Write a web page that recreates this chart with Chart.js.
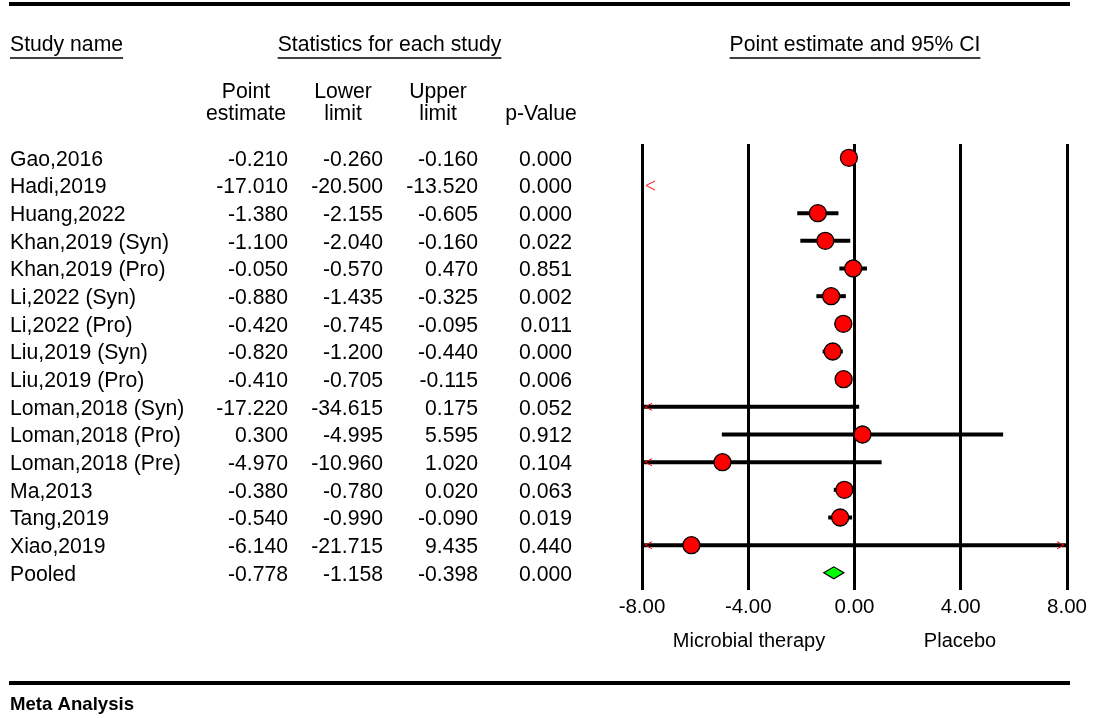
<!DOCTYPE html>
<html>
<head>
<meta charset="utf-8">
<title>Forest plot</title>
<script src="https://cdn.jsdelivr.net/npm/chart.js@4.4.1/dist/chart.umd.min.js"></script>
<style>
  html, body { margin: 0; padding: 0; background: #ffffff; }
  canvas { display: block; }
</style>
</head>
<body>
<canvas id="forest" width="1094" height="718"></canvas>
<script>
// Study rows (last row is the pooled estimate)
const studies = [
  'Gao,2016', 'Hadi,2019', 'Huang,2022', 'Khan,2019 (Syn)', 'Khan,2019 (Pro)',
  'Li,2022 (Syn)', 'Li,2022 (Pro)', 'Liu,2019 (Syn)', 'Liu,2019 (Pro)',
  'Loman,2018 (Syn)', 'Loman,2018 (Pro)', 'Loman,2018 (Pre)', 'Ma,2013',
  'Tang,2019', 'Xiao,2019', 'Pooled'
];
const pointEstimate = [-0.210, -17.010, -1.380, -1.100, -0.050, -0.880, -0.420, -0.820, -0.410,
  -17.220, 0.300, -4.970, -0.380, -0.540, -6.140, -0.778];
const lowerLimit = [-0.260, -20.500, -2.155, -2.040, -0.570, -1.435, -0.745, -1.200, -0.705,
  -34.615, -4.995, -10.960, -0.780, -0.990, -21.715, -1.158];
const upperLimit = [-0.160, -13.520, -0.605, -0.160, 0.470, -0.325, -0.095, -0.440, -0.115,
  0.175, 5.595, 1.020, 0.020, -0.090, 9.435, -0.398];
const pValue = [0.000, 0.000, 0.000, 0.022, 0.851, 0.002, 0.011, 0.000, 0.006,
  0.052, 0.912, 0.104, 0.063, 0.019, 0.440, 0.000];
const xTicks = [-8, -4, 0, 4, 8];
const favoursLeft = 'Microbial therapy';
const favoursRight = 'Placebo';

const FONT = '"Liberation Sans", Arial, Helvetica, sans-serif';
const pooledIndex = studies.length - 1;

// Header, table columns and rules around the plot
const tablePlugin = {
  id: 'tablePlugin',
  afterDraw(chart) {
    const ctx = chart.ctx;
    const y = chart.scales.y;
    ctx.save();
    ctx.fillStyle = '#000';
    ctx.strokeStyle = '#000';

    // heavy rules
    ctx.lineWidth = 4;
    ctx.beginPath();
    ctx.moveTo(9, 4); ctx.lineTo(1070, 4);
    ctx.moveTo(9, 683); ctx.lineTo(1070, 683);
    ctx.stroke();

    ctx.font = '21.2px ' + FONT;
    ctx.textBaseline = 'middle';

    const underlined = (text, x, yy, align) => {
      ctx.textAlign = align;
      ctx.fillText(text, x, yy);
      const w = ctx.measureText(text).width;
      const x0 = align === 'center' ? x - w / 2 : x;
      ctx.lineWidth = 1.3;
      ctx.beginPath();
      ctx.moveTo(x0, yy + 13); ctx.lineTo(x0 + w, yy + 13);
      ctx.stroke();
    };
    underlined('Study name', 10, 45, 'left');
    underlined('Statistics for each study', 389.5, 45, 'center');
    underlined('Point estimate and 95% CI', 855, 45, 'center');

    ctx.textAlign = 'center';
    ctx.fillText('Point', 246, 92);
    ctx.fillText('estimate', 246, 114);
    ctx.fillText('Lower', 343, 92);
    ctx.fillText('limit', 343, 114);
    ctx.fillText('Upper', 438, 92);
    ctx.fillText('limit', 438, 114);
    ctx.fillText('p-Value', 541, 114);

    studies.forEach((name, i) => {
      const py = y.getPixelForValue(i) + 2;
      ctx.textAlign = 'left';
      ctx.fillText(name, 10, py);
      ctx.textAlign = 'right';
      ctx.fillText(pointEstimate[i].toFixed(3), 288, py);
      ctx.fillText(lowerLimit[i].toFixed(3), 383, py);
      ctx.fillText(upperLimit[i].toFixed(3), 478, py);
      ctx.fillText(pValue[i].toFixed(3), 572, py);
    });

    ctx.font = '20px ' + FONT;
    ctx.textAlign = 'center';
    ctx.fillText(favoursLeft, 749, 641);
    ctx.fillText(favoursRight, 960, 641);

    ctx.textAlign = 'left';
    ctx.font = 'bold 18.6px ' + FONT;
    ctx.fillText('Meta Analysis', 10, 705);
    ctx.restore();
  }
};

// Confidence interval bars, off-scale arrows and pooled diamond
const intervalPlugin = {
  id: 'intervalPlugin',
  beforeDatasetsDraw(chart) {
    const ctx = chart.ctx;
    const xs = chart.scales.x;
    const ys = chart.scales.y;
    const xmin = xs.min, xmax = xs.max;
    const arrow = (x, yy, dir, size) => {
      ctx.save();
      ctx.strokeStyle = '#ff0000';
      ctx.lineWidth = 1;
      ctx.beginPath();
      ctx.moveTo(x + dir * size * 2, yy - size);
      ctx.lineTo(x, yy);
      ctx.lineTo(x + dir * size * 2, yy + size);
      ctx.stroke();
      ctx.restore();
    };
    ctx.save();
    for (let i = 0; i < pooledIndex; i++) {
      const py = ys.getPixelForValue(i);
      const lo = lowerLimit[i], hi = upperLimit[i];
      if (hi < xmin) {
        arrow(xs.getPixelForValue(xmin) + 4, py, 1, 4.5);
        continue;
      }
      const x0 = xs.getPixelForValue(Math.max(lo, xmin));
      const x1 = xs.getPixelForValue(Math.min(hi, xmax));
      ctx.strokeStyle = '#000';
      ctx.lineWidth = 4;
      ctx.lineCap = 'butt';
      ctx.beginPath();
      ctx.moveTo(x0, py); ctx.lineTo(x1, py);
      ctx.stroke();
      if (lo < xmin) arrow(x0 + 3, py, 1, 3.5);
      if (hi > xmax) arrow(x1 - 3, py, -1, 3.5);
    }
    // pooled diamond
    const py = ys.getPixelForValue(pooledIndex);
    const xl = xs.getPixelForValue(lowerLimit[pooledIndex]);
    const xc = xs.getPixelForValue(pointEstimate[pooledIndex]);
    const xr = xs.getPixelForValue(upperLimit[pooledIndex]);
    ctx.fillStyle = '#00ff00';
    ctx.strokeStyle = '#000';
    ctx.lineWidth = 1.2;
    ctx.beginPath();
    ctx.moveTo(xl, py);
    ctx.lineTo(xc, py - 6);
    ctx.lineTo(xr, py);
    ctx.lineTo(xc, py + 6);
    ctx.closePath();
    ctx.fill();
    ctx.stroke();
    ctx.restore();
  }
};

const studyPoints = studies.slice(0, pooledIndex).map((s, i) => ({ x: pointEstimate[i], y: i }));

new Chart(document.getElementById('forest'), {
  type: 'scatter',
  data: {
    datasets: [{
      label: 'Point estimate',
      data: studyPoints,
      pointRadius: 8.5,
      pointHoverRadius: 8.5,
      pointBackgroundColor: '#ff0000',
      pointBorderColor: '#000000',
      pointBorderWidth: 1.3
    }]
  },
  options: {
    responsive: false,
    animation: false,
    devicePixelRatio: 1,
    layout: { padding: { left: 642, right: 27, top: 144, bottom: 94 } },
    plugins: { legend: { display: false }, tooltip: { enabled: false } },
    scales: {
      x: {
        type: 'linear',
        min: -8,
        max: 8,
        afterBuildTicks: (scale) => { scale.ticks = xTicks.map(v => ({ value: v })); },
        afterFit: (scale) => { scale.height = 34; },
        grid: { color: '#000', lineWidth: 3, drawTicks: false },
        border: { display: false },
        ticks: {
          color: '#000',
          padding: 5,
          maxRotation: 0,
          font: { family: FONT, size: 20.5 },
          callback: (v) => Number(v).toFixed(2)
        }
      },
      y: {
        type: 'linear',
        reverse: true,
        min: -0.5,
        max: 15.62,
        display: false
      }
    }
  },
  plugins: [intervalPlugin, tablePlugin]
});
</script>
</body>
</html>
